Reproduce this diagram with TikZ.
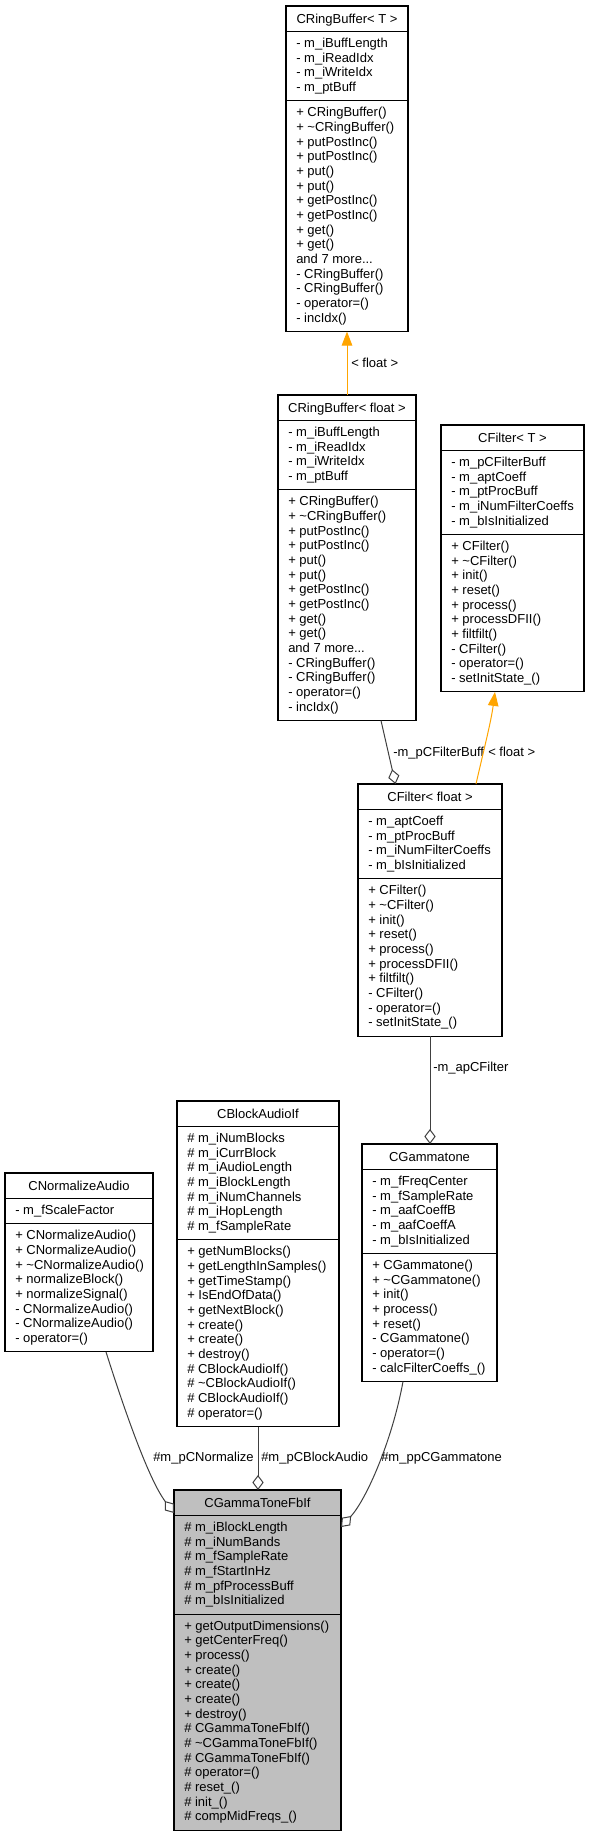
\documentclass[tikz,border=0pt]{standalone}
\usepackage{fontspec}
\setmainfont{Liberation Sans}
\usetikzlibrary{arrows.meta,calc}
\definecolor{edgegray}{HTML}{404040}
\definecolor{tmplorange}{HTML}{FFA500}
\definecolor{mainfill}{HTML}{BFBFBF}
\tikzset{
  classbox/.style={draw=black, line width=0.8pt, inner sep=0pt, outer sep=0pt, anchor=north west},
  sepline/.style={draw=black, line width=0.8pt},
  titletext/.style={inner sep=0pt, anchor=base, font=\fontsize{9.75}{11}\selectfont},
  membertext/.style={inner sep=0pt, anchor=base west, font=\fontsize{9.75}{11}\selectfont},
  edgelabel/.style={inner sep=0pt, anchor=base west, font=\fontsize{9.75}{11}\selectfont},
  aggr/.style={draw=edgegray, line width=0.75pt, -{Diamond[open, length=11.25pt, width=8.5pt, line width=0.75pt]}},
  tmpl/.style={draw=tmplorange, line width=0.75pt, -{Triangle[length=10.5pt, width=7.9pt]}}
}
\def\classfill{white}
\def\moredots{...}
% #1 name, #2 left, #3 top, #4 width, #5 title, #6 n attrs, #7 attrs, #8 n methods, #9 methods
\newcommand{\umlclass}[9]{%
  \pgfmathsetmacro{\clsT}{25.5}%
  \pgfmathsetmacro{\clsA}{#6*14.667+10.7}%
  \pgfmathsetmacro{\clsM}{#8*14.667+10.7}%
  \pgfmathsetmacro{\clsH}{\clsT+\clsA+\clsM}%
  \pgfmathsetmacro{\clsW}{#4*0.75}%
  \pgfmathsetmacro{\clsHpt}{\clsH*0.75}%
  \node[classbox, fill=\classfill, minimum width=\clsW pt, minimum height=\clsHpt pt] (#1) at (#2,#3) {};
  \draw[sepline] ({#2},{#3+\clsT}) -- ({#2+#4},{#3+\clsT});
  \draw[sepline] ({#2},{#3+\clsT+\clsA}) -- ({#2+#4},{#3+\clsT+\clsA});
  \node[titletext] (#1-title) at ({#2+#4/2},{#3+17}) {#5};
  \foreach \mem [count=\i] in {#7} {\node[membertext] (#1-a\i) at ({#2+10},{#3+\clsT+16+(\i-1)*14.667}) {\mem};}
  \foreach \mem [count=\i] in {#9} {\node[membertext] (#1-m\i) at ({#2+10},{#3+\clsT+\clsA+16+(\i-1)*14.667}) {\mem};}
}
\begin{document}
\begin{tikzpicture}[x=0.75pt, y=-0.75pt]
\useasboundingbox[fill=white] (0,0) rectangle (590,1836);

\umlclass{rbT}{286}{6}{122}{CRingBuffer< T >}{4}{- m\_iBuffLength, - m\_iReadIdx, - m\_iWriteIdx, - m\_ptBuff}{15}{+ CRingBuffer(), + \textasciitilde CRingBuffer(), + putPostInc(), + putPostInc(), + put(), + put(), + getPostInc(), + getPostInc(), + get(), + get(), and 7 more\moredots, - CRingBuffer(), - CRingBuffer(), - operator=(), - incIdx()}

\umlclass{rbF}{278}{395}{138}{CRingBuffer< float >}{4}{- m\_iBuffLength, - m\_iReadIdx, - m\_iWriteIdx, - m\_ptBuff}{15}{+ CRingBuffer(), + \textasciitilde CRingBuffer(), + putPostInc(), + putPostInc(), + put(), + put(), + getPostInc(), + getPostInc(), + get(), + get(), and 7 more\moredots, - CRingBuffer(), - CRingBuffer(), - operator=(), - incIdx()}

\umlclass{cfT}{441}{425}{143}{CFilter< T >}{5}{- m\_pCFilterBuff, - m\_aptCoeff, - m\_ptProcBuff, - m\_iNumFilterCoeffs, - m\_bIsInitialized}{10}{+ CFilter(), + \textasciitilde CFilter(), + init(), + reset(), + process(), + processDFII(), + filtfilt(), - CFilter(), - operator=(), - setInitState\_()}

\umlclass{cfF}{358}{784}{144}{CFilter< float >}{4}{- m\_aptCoeff, - m\_ptProcBuff, - m\_iNumFilterCoeffs, - m\_bIsInitialized}{10}{+ CFilter(), + \textasciitilde CFilter(), + init(), + reset(), + process(), + processDFII(), + filtfilt(), - CFilter(), - operator=(), - setInitState\_()}

\umlclass{cg}{362}{1144}{135}{CGammatone}{5}{- m\_fFreqCenter, - m\_fSampleRate, - m\_aafCoeffB, - m\_aafCoeffA, - m\_bIsInitialized}{8}{+ CGammatone(), + \textasciitilde CGammatone(), + init(), + process(), + reset(), - CGammatone(), - operator=(), - calcFilterCoeffs\_()}

\umlclass{na}{5}{1173}{148}{CNormalizeAudio}{1}{- m\_fScaleFactor}{8}{+ CNormalizeAudio(), + CNormalizeAudio(), + \textasciitilde CNormalizeAudio(), + normalizeBlock(), + normalizeSignal(), - CNormalizeAudio(), - CNormalizeAudio(), - operator=()}

\umlclass{ba}{177}{1101}{162}{CBlockAudioIf}{7}{\# m\_iNumBlocks, \# m\_iCurrBlock, \# m\_iAudioLength, \# m\_iBlockLength, \# m\_iNumChannels, \# m\_iHopLength, \# m\_fSampleRate}{12}{+ getNumBlocks(), + getLengthInSamples(), + getTimeStamp(), + IsEndOfData(), + getNextBlock(), + create(), + create(), + destroy(), \# CBlockAudioIf(), \# \textasciitilde CBlockAudioIf(), \# CBlockAudioIf(), \# operator=()}

\def\classfill{mainfill}
\umlclass{gt}{174}{1490}{167}{CGammaToneFbIf}{6}{\# m\_iBlockLength, \# m\_iNumBands, \# m\_fSampleRate, \# m\_fStartInHz, \# m\_pfProcessBuff, \# m\_bIsInitialized}{14}{+ getOutputDimensions(), + getCenterFreq(), + process(), + create(), + create(), + create(), + destroy(), \# CGammaToneFbIf(), \# \textasciitilde CGammaToneFbIf(), \# CGammaToneFbIf(), \# operator=(), \# reset\_(), \# init\_(), \# compMidFreqs\_()}

% connectors
\draw[tmpl] (rbF.north) -- (rbF.north |- rbT.south);
\node[edgelabel] (lab1) at (351,367.3) {< float >};

\draw[aggr] ($(rbF.south west)+(103,0)$) -- ($(cfF.north west)+(37.5,0)$);
\node[edgelabel] (lab2) at (393,756.3) {-m\_pCFilterBuff};

\draw[tmpl] ($(cfF.north west)+(118,0)$) .. controls ($(cfF.north west)+(126,-35)$) and ($(cfT.south west)+(50,30)$) .. ($(cfT.south west)+(54,0)$);
\node[edgelabel] (lab3) at (488,756.3) {< float >};

\draw[aggr] (cfF.south) -- (cfF.south |- cg.north);
\node[edgelabel] (lab4) at (433,1071.3) {-m\_apCFilter};

\draw[aggr] ($(na.south west)+(101,0)$) .. controls ($(na.south west)+(120,60)$) and ($(gt.north west)+(-25,-10)$) .. ($(gt.north west)+(0,23)$);
\node[edgelabel] (lab5) at (153,1461.3) {\#m\_pCNormalize};

\draw[aggr] (ba.south) -- (ba.south |- gt.north);
\node[edgelabel] (lab6) at (261,1461.3) {\#m\_pCBlockAudio};

\draw[aggr] ($(cg.south west)+(41,0)$) .. controls ($(cg.south west)+(30,60)$) and ($(gt.north east)+(25,10)$) .. ($(gt.north east)+(0,37)$);
\node[edgelabel] (lab7) at (381,1461.3) {\#m\_ppCGammatone};
\end{tikzpicture}
\end{document}
